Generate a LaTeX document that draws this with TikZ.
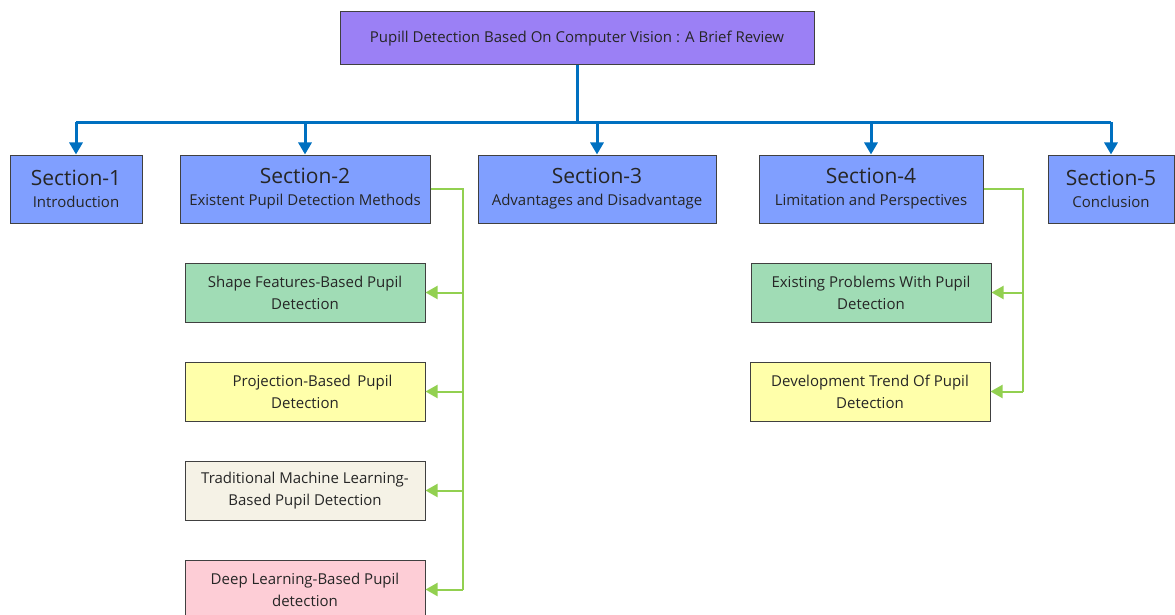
\documentclass[tikz,border=0pt]{standalone}
\usepackage{fontspec}
\setmainfont{Open Sans}
\usetikzlibrary{arrows.meta,calc}
\definecolor{titlefill}{RGB}{155,128,245}
\definecolor{secfill}{RGB}{128,159,255}
\definecolor{trunkblue}{RGB}{0,112,192}
\definecolor{branchgreen}{RGB}{146,208,80}
\definecolor{greenfill}{RGB}{160,220,181}
\definecolor{yellowfill}{RGB}{255,255,170}
\definecolor{beigefill}{RGB}{245,242,230}
\definecolor{pinkfill}{RGB}{253,205,214}
\definecolor{edgegray}{RGB}{64,64,64}
\tikzset{
    box/.style = {draw=edgegray, line width=1pt, inner sep=0pt, align=center,
        text=black!85, font=\fontsize{15}{22}\selectfont},
    secbox/.style = {box, fill=secfill, minimum height=68pt},
    subbox/.style = {box, minimum width=240pt, minimum height=59pt},
    trunk/.style = {trunkblue, line width=3pt},
    branch/.style = {branchgreen, line width=2pt},
    tip/.style = {-{Triangle[length=12pt,width=13pt]}},
}
\newcommand{\sechead}[2]{{\fontsize{21}{24}\selectfont #1}\\#2}

\begin{document}
\begin{tikzpicture}[x=1pt,y=1pt]
\useasboundingbox (0,0) rectangle (1175,-615);

\node[box, fill=titlefill, minimum width=474pt, minimum height=53pt] (title) at (577,-38.5)
    {Pupill Detection Based On Computer Vision : A Brief Review};

% sections
\node[secbox, minimum width=132pt] (S1) at (76,-189) {\sechead{Section-1}{Introduction}};
\node[secbox, minimum width=250pt] (S2) at (305,-189) {\sechead{Section-2}{Existent Pupil Detection Methods}};
\node[secbox, minimum width=238pt] (S3) at (597,-189) {\sechead{Section-3}{Advantages and Disadvantage}};
\node[secbox, minimum width=224pt] (S4) at (871,-189) {\sechead{Section-4}{Limitation and Perspectives}};
\node[secbox, minimum width=126pt] (S5) at (1111,-189) {\sechead{Section-5}{Conclusion}};

% children of section 2
\node[subbox, fill=greenfill] (C1) at (305,-292.5) {Shape Features-Based Pupil\\Detection};
\node[subbox, fill=yellowfill] (C2) at (305,-391.5) {\quad Projection-Based\, Pupil\\Detection};
\node[subbox, fill=beigefill] (C3) at (305,-490.5) {Traditional Machine Learning-\\Based Pupil Detection};
\node[subbox, fill=pinkfill] (C4) at (305,-589.5) {Deep Learning-Based Pupil\\detection};

% children of section 4
\node[subbox, fill=greenfill] (D1) at (871,-292.5) {Existing Problems With Pupil\\Detection};
\node[subbox, fill=yellowfill] (D2) at (870,-391.5) {Development Trend Of Pupil\\Detection};

% blue tree
\draw[trunk] (title.south) -- ++(0,-57) coordinate (hub);
\draw[trunk] (S1.north |- hub) -- (S5.north |- hub);
\draw[trunk,tip] (S1.north |- hub) -- (S1.north);
\draw[trunk,tip] (S2.north |- hub) -- (S2.north);
\draw[trunk,tip] (S3.north |- hub) -- (S3.north);
\draw[trunk,tip] (S4.north |- hub) -- (S4.north);
\draw[trunk,tip] (S5.north |- hub) -- (S5.north);

% green branches
\draw[branch] (S2.east) -- ++(32,0) coordinate (s2r) -- (s2r |- C4.east);
\draw[branch,tip] (s2r |- C1.east) -- (C1.east);
\draw[branch,tip] (s2r |- C2.east) -- (C2.east);
\draw[branch,tip] (s2r |- C3.east) -- (C3.east);
\draw[branch,tip] (s2r |- C4.east) -- (C4.east);

\draw[branch] (S4.east) -- ++(39,0) coordinate (s4r) -- (s4r |- D2.east);
\draw[branch,tip] (s4r |- D1.east) -- (D1.east);
\draw[branch,tip] (s4r |- D2.east) -- (D2.east);
\end{tikzpicture}
\end{document}
